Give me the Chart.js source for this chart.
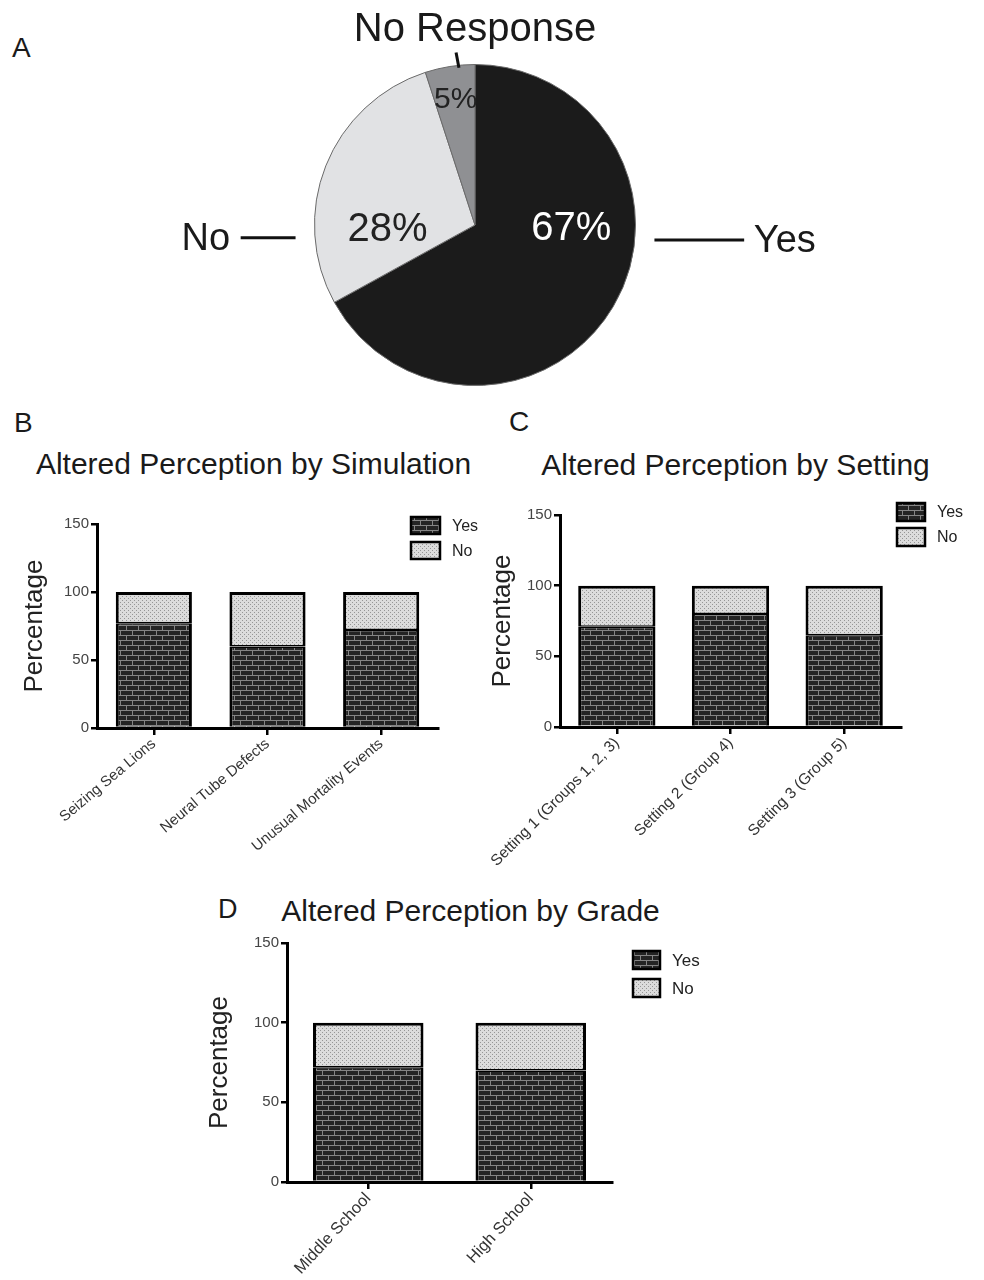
<!DOCTYPE html>
<html>
<head>
<meta charset="utf-8">
<script src="https://cdn.jsdelivr.net/npm/chart.js@4.4.1/dist/chart.umd.min.js"></script>
<style>
body{margin:0;background:#fff;width:984px;height:1280px;position:relative;overflow:hidden;font-family:"Liberation Sans",Arial,sans-serif;color:#1a1a1a}
canvas{position:absolute}
.t{position:absolute;white-space:nowrap}
</style>
</head>
<body>
<div class="t" style="left:12px;top:34px;font-size:28px;line-height:28px">A</div>
<div class="t" style="left:14px;top:409px;font-size:28px;line-height:28px">B</div>
<div class="t" style="left:509px;top:408px;font-size:28px;line-height:28px">C</div>
<div class="t" style="left:218px;top:896px;font-size:27px;line-height:27px">D</div>
<div class="t" style="left:0;width:507px;text-align:center;top:449px;font-size:30px;line-height:30px">Altered Perception by Simulation</div>
<div class="t" style="left:500px;width:471px;text-align:center;top:450px;font-size:30px;line-height:30px">Altered Perception by Setting</div>
<div class="t" style="left:270px;width:401px;text-align:center;top:896px;font-size:30px;line-height:30px">Altered Perception by Grade</div>

<canvas id="pie" width="984" height="400" style="left:0;top:0"></canvas>
<canvas id="sim" width="500" height="380" style="left:0;top:490px"></canvas>
<canvas id="set" width="514" height="390" style="left:470px;top:490px"></canvas>
<canvas id="grade" width="520" height="360" style="left:190px;top:920px"></canvas>

<script>
var pieLabels = ['Yes', 'No', 'No Response'];
var pieValues = [67, 28, 5];

var simCategories = ['Seizing Sea Lions', 'Neural Tube Defects', 'Unusual Mortality Events'];
var simYes = [77, 60, 72];
var simNo = [23, 40, 28];

var setCategories = ['Setting 1 (Groups 1, 2, 3)', 'Setting 2 (Group 4)', 'Setting 3 (Group 5)'];
var setYes = [71, 80, 65];
var setNo = [29, 20, 35];

var gradeCategories = ['Middle School', 'High School'];
var gradeYes = [72, 70];
var gradeNo = [28, 30];

var yTicks = [0, 50, 100, 150];

var FONT = '"Liberation Sans", Arial, sans-serif';
Chart.defaults.font.family = FONT;

// fill patterns for the bars
function brickPattern() {
  var c = document.createElement('canvas');
  c.width = 12; c.height = 10;
  var g = c.getContext('2d');
  g.fillStyle = '#242424';
  g.fillRect(0, 0, 12, 10);
  g.fillStyle = '#858585';
  g.fillRect(0, 0, 12, 1);
  g.fillRect(0, 5, 12, 1);
  g.fillRect(0, 0, 1, 5);
  g.fillRect(6, 5, 1, 5);
  return g.createPattern(c, 'repeat');
}
function dotPattern() {
  var c = document.createElement('canvas');
  c.width = 4; c.height = 4;
  var g = c.getContext('2d');
  g.fillStyle = '#dcdcdc';
  g.fillRect(0, 0, 4, 4);
  g.fillStyle = '#969696';
  g.fillRect(0, 0, 1, 1);
  g.fillRect(2, 2, 1, 1);
  return g.createPattern(c, 'repeat');
}
var yesFill = brickPattern();
var noFill = dotPattern();

var patternLegend = {
  id: 'patternLegend',
  afterDraw: function(chart, args, o) {
    var ctx = chart.ctx;
    ctx.save();
    chart.data.datasets.forEach(function(ds, i) {
      var y = o.y + i * o.gap;
      ctx.fillStyle = ds.backgroundColor;
      ctx.fillRect(o.x, y, o.w, o.h);
      ctx.lineWidth = 2.5;
      ctx.strokeStyle = '#000';
      ctx.strokeRect(o.x, y, o.w, o.h);
      ctx.fillStyle = '#222';
      ctx.font = o.size + 'px ' + FONT;
      ctx.textBaseline = 'middle';
      ctx.fillText(ds.label, o.x + o.w + 12, y + o.h / 2 + 1);
    });
    ctx.restore();
  }
};

function barChart(id, cats, yes, no, cfg) {
  return new Chart(document.getElementById(id), {
    type: 'bar',
    data: {
      labels: cats,
      datasets: [
        {label: 'Yes', data: yes, backgroundColor: yesFill, borderColor: '#000',
         borderWidth: {left: 3, right: 3, bottom: 0, top: 1.5}, borderSkipped: false},
        {label: 'No', data: no, backgroundColor: noFill, borderColor: '#000',
         borderWidth: {left: 3, right: 3, bottom: 1.5, top: 3}, borderSkipped: false}
      ]
    },
    plugins: [patternLegend],
    options: {
      responsive: false,
      animation: false,
      categoryPercentage: 1,
      barPercentage: cfg.barPct,
      layout: {padding: {top: cfg.padTop, right: cfg.padRight, left: 0, bottom: 0}},
      plugins: {
        legend: {display: false},
        tooltip: {enabled: false},
        patternLegend: cfg.legend
      },
      scales: {
        x: {
          stacked: true,
          grid: {drawOnChartArea: false, offset: false, tickLength: 7, color: '#000', lineWidth: 2.5},
          border: {color: '#000', width: 3},
          ticks: {color: '#333', font: {size: cfg.catSize}, minRotation: cfg.rot, maxRotation: cfg.rot, autoSkip: false, padding: 0},
          afterFit: function(s) { s.height = cfg.xHeight; }
        },
        y: {
          stacked: true,
          min: 0,
          max: 150,
          afterBuildTicks: function(s) { s.ticks = yTicks.map(function(v) { return {value: v}; }); },
          grid: {drawOnChartArea: false, tickLength: 6, color: '#000', lineWidth: 2.5},
          border: {color: '#000', width: 3},
          ticks: {color: '#444', font: {size: 15}, padding: 2},
          title: {display: true, text: 'Percentage', color: '#222', font: {size: 26}, padding: {top: cfg.titlePad, bottom: 0}},
          afterFit: function(s) { s.width = cfg.yWidth; }
        }
      }
    }
  });
}

barChart('sim', simCategories, simYes, simNo, {
  barPct: 0.67, padTop: 34, padRight: 62, xHeight: 142, yWidth: 97, titlePad: 19, catSize: 15, rot: 40,
  legend: {x: 411, y: 27, w: 29, h: 17, gap: 25, size: 16}
});
barChart('set', setCategories, setYes, setNo, {
  barPct: 0.68, padTop: 25, padRight: 83, xHeight: 153, yWidth: 90, titlePad: 17, catSize: 15.5, rot: 45,
  legend: {x: 427, y: 13, w: 28, h: 18, gap: 25, size: 16}
});
barChart('grade', gradeCategories, gradeYes, gradeNo, {
  barPct: 0.68, padTop: 23, padRight: 98, xHeight: 98, yWidth: 97, titlePad: 14, catSize: 16.5, rot: 47,
  legend: {x: 443, y: 31, w: 27, h: 18, gap: 28, size: 17}
});

// pie labels, placed relative to the pie's centre and radius
var pieText = {
  id: 'pieText',
  afterDatasetsDraw: function(chart) {
    var arc = chart.getDatasetMeta(0).data[0];
    var cx = arc.x, cy = arc.y, r = arc.outerRadius;
    var ctx = chart.ctx;
    var inner = [[0.60, 0.01, '#fff', 40], [-0.545, 0.02, '#222', 40], [-0.12, -0.79, '#222', 30]];
    var outer = [[1.93, 0.093, 38], [-1.677, 0.08, 38], [0, -1.225, 40]];
    var leads = [[1.118, 1.677, 0.093], [-1.46, -1.118, 0.08]];
    ctx.save();
    ctx.textAlign = 'center';
    ctx.textBaseline = 'middle';
    pieValues.forEach(function(v, i) {
      ctx.fillStyle = inner[i][2];
      ctx.font = inner[i][3] + 'px ' + FONT;
      ctx.fillText(v + '%', cx + inner[i][0] * r, cy + inner[i][1] * r + 2);
      ctx.fillStyle = '#1a1a1a';
      ctx.font = outer[i][2] + 'px ' + FONT;
      ctx.fillText(pieLabels[i], cx + outer[i][0] * r, cy + outer[i][1] * r + 2);
    });
    ctx.strokeStyle = '#111';
    ctx.lineWidth = 3;
    leads.forEach(function(l) {
      ctx.beginPath();
      ctx.moveTo(cx + l[0] * r, cy + l[2] * r);
      ctx.lineTo(cx + l[1] * r, cy + l[2] * r);
      ctx.stroke();
    });
    ctx.beginPath();
    ctx.moveTo(cx - 0.118 * r, cy - 1.075 * r);
    ctx.lineTo(cx - 0.1 * r, cy - 0.98 * r);
    ctx.stroke();
    ctx.restore();
  }
};

new Chart(document.getElementById('pie'), {
  type: 'pie',
  data: {
    labels: pieLabels,
    datasets: [{
      data: pieValues,
      backgroundColor: ['#1b1b1b', '#e1e2e4', '#8f9093'],
      borderColor: '#6a6a6a',
      borderWidth: 1
    }]
  },
  plugins: [pieText],
  options: {
    responsive: false,
    animation: false,
    layout: {padding: {left: 314, top: 64, right: 348, bottom: 14}},
    plugins: {legend: {display: false}, tooltip: {enabled: false}}
  }
});
</script>
</body>
</html>
